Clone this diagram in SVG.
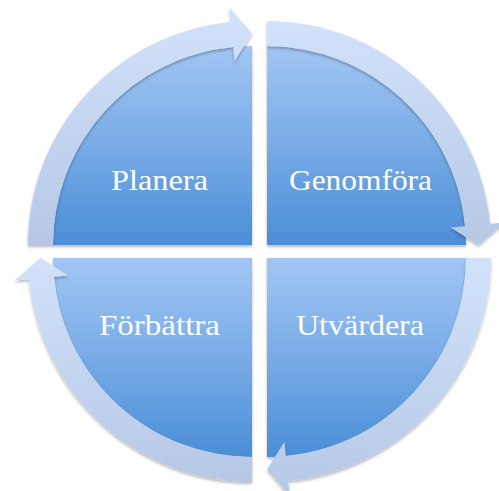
<svg xmlns="http://www.w3.org/2000/svg" width="499" height="491" viewBox="0 0 499 491">
  <defs>
    <linearGradient id="gBlue" x1="0" y1="0" x2="0" y2="1">
      <stop offset="0" stop-color="#a2c6f4"/>
      <stop offset="0.5" stop-color="#78abe7"/>
      <stop offset="1" stop-color="#4a8ed6"/>
    </linearGradient>
    <linearGradient id="gBand" x1="0" y1="0" x2="0" y2="1">
      <stop offset="0" stop-color="#d2e2fa"/>
      <stop offset="1" stop-color="#b6c8e6"/>
    </linearGradient>
    <filter id="shadow" x="-10%" y="-10%" width="120%" height="120%">
      <feDropShadow dx="0" dy="2" stdDeviation="1.5" flood-color="#000" flood-opacity="0.28"/>
    </filter>
  </defs>
  <style>
    .pie { fill: url(#gBlue); filter: url(#shadow); }
    .band { fill: url(#gBand); filter: url(#shadow); }
    .lbl { font-family: "Liberation Serif", "DejaVu Serif", serif; font-size: 30px; fill: #ffffff; text-anchor: middle; }
  </style>
  <rect width="499" height="491" fill="#ffffff"/>
  <g id="planera">
    <path class="pie" d="M 252 245 L 53 245 A 199 199 0 0 1 252 46 Z"/>
    <text class="lbl" x="159.5" y="190" textLength="97" lengthAdjust="spacingAndGlyphs">Planera</text>
  </g>
  <g id="genomfora">
    <path class="pie" d="M 267 245 L 267 46 A 199 199 0 0 1 466 245 Z"/>
    <text class="lbl" x="360.5" y="190" textLength="143" lengthAdjust="spacingAndGlyphs">Genomföra</text>
  </g>
  <g id="utvardera">
    <path class="pie" d="M 267 258 L 466 258 A 199 199 0 0 1 267 457 Z"/>
    <text class="lbl" x="360" y="335" textLength="128" lengthAdjust="spacingAndGlyphs">Utvärdera</text>
  </g>
  <g id="forbattra">
    <path class="pie" d="M 252 258 L 252 457 A 199 199 0 0 1 53 258 Z"/>
    <text class="lbl" x="159.5" y="335" textLength="121" lengthAdjust="spacingAndGlyphs">Förbättra</text>
  </g>
  <g id="connectors">
    <path class="band" d="M 28 245 A 224 224 0 0 1 230.8 22 L 229.4 7.6 L 252 33.5 L 234.5 61.3 L 233.2 46.9 A 199 199 0 0 0 53 245 Z"/>
    <path class="band" d="M 267 21 A 224 224 0 0 1 490 223.8 L 504.4 222.4 L 478.5 245 L 450.7 227.6 L 465.1 226.2 A 199 199 0 0 0 267 46 Z"/>
    <path class="band" d="M 491 258 A 224 224 0 0 1 288.2 481 L 289.6 495.4 L 267 469.5 L 284.5 441.7 L 285.8 456.1 A 199 199 0 0 0 466 258 Z"/>
    <path class="band" d="M 252 482 A 224 224 0 0 1 29 279.2 L 14.6 280.6 L 40.5 258 L 68.3 275.5 L 53.9 276.8 A 199 199 0 0 0 252 457 Z"/>
  </g>
</svg>
